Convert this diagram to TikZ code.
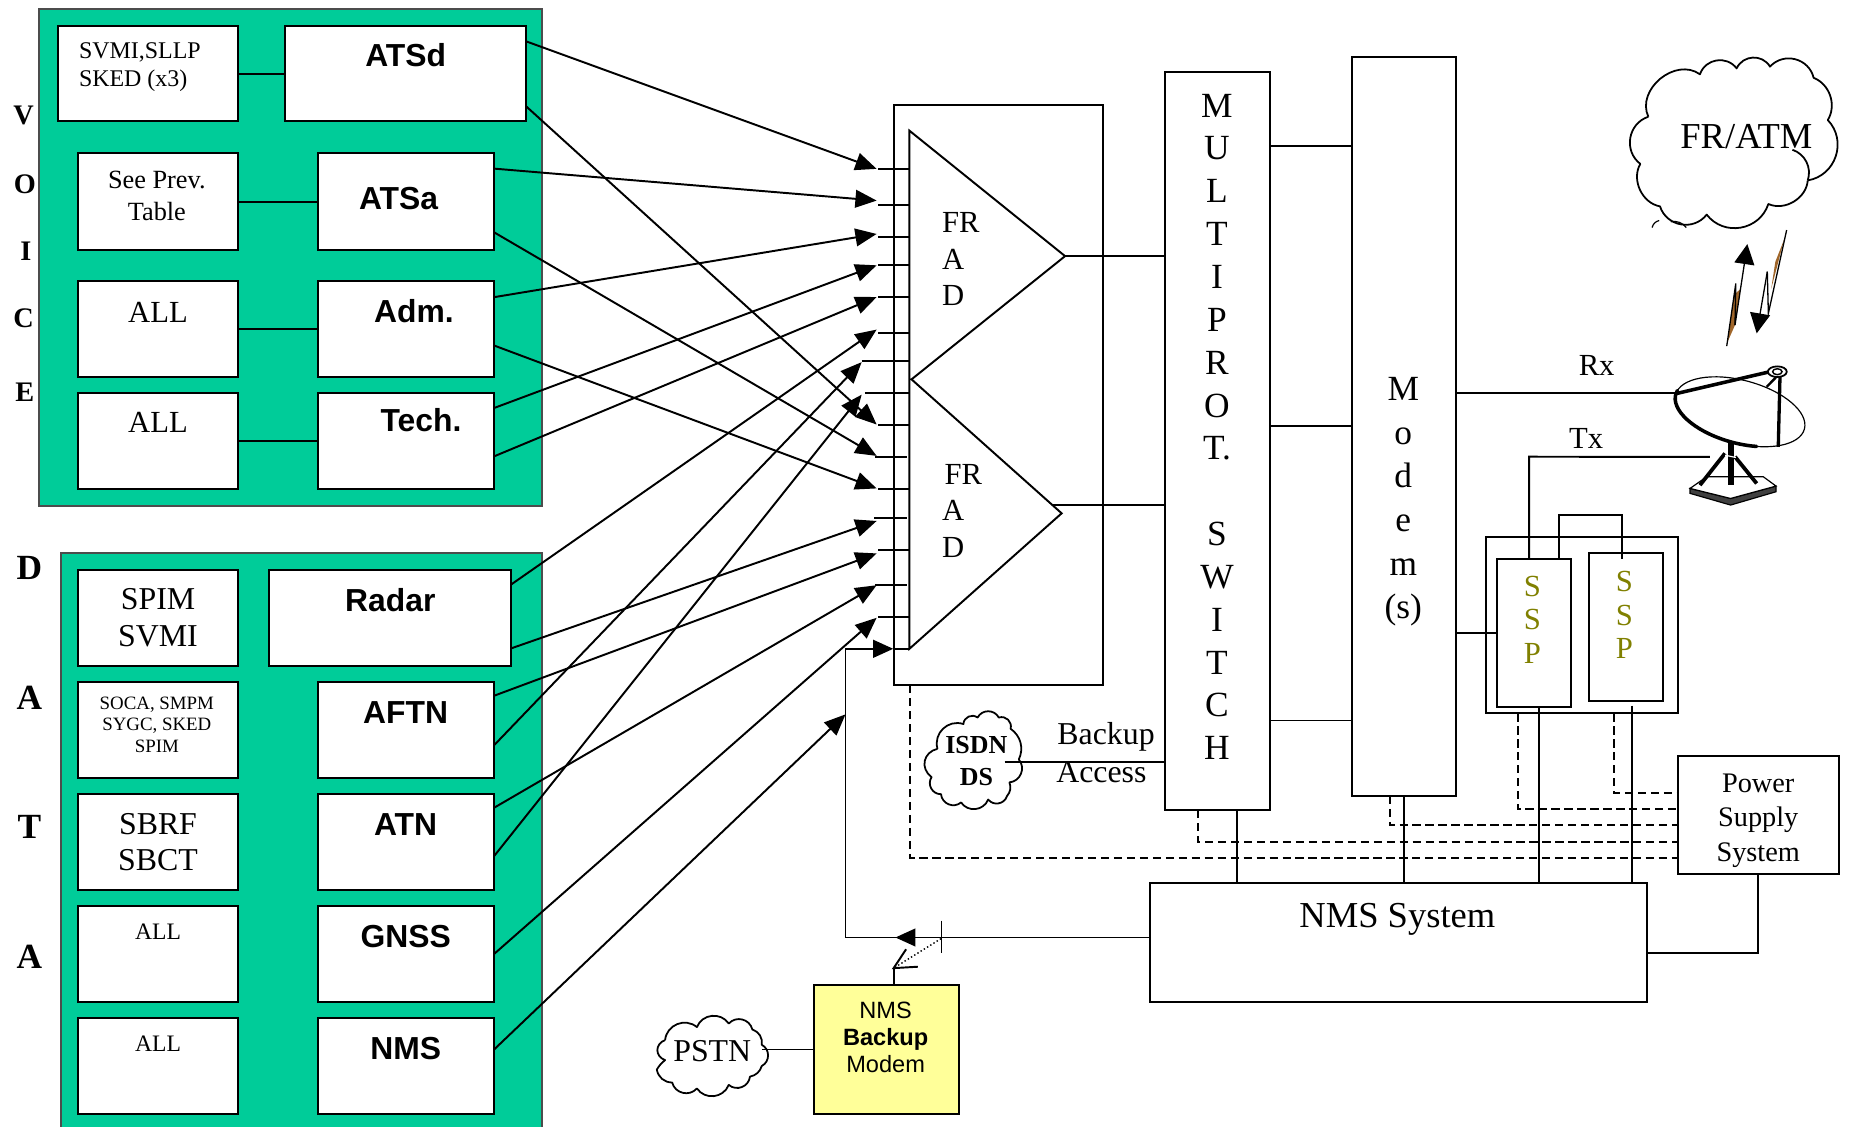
\documentclass[tikz,border=0pt]{standalone}
\usepackage{fontspec}
\setmainfont{Liberation Serif}
\setsansfont{Liberation Sans}
\usetikzlibrary{arrows.meta,calc}
\definecolor{panelgreen}{HTML}{00CC99}
\definecolor{noteyellow}{HTML}{FFFF99}
\definecolor{sspolive}{HTML}{808000}
\definecolor{boltbrown}{HTML}{A0662A}
\tikzset{
  wire/.style={line width=1.65pt,draw=black},
  dashwire/.style={line width=1.65pt,draw=black,dash pattern=on 7pt off 4pt},
  box/.style={draw=black,line width=1.7pt,fill=white,rectangle,inner sep=0pt,outer sep=0pt},
  panel/.style={draw=black!70,line width=1.7pt,fill=panelgreen,rectangle,inner sep=0pt,outer sep=0pt},
  plain/.style={draw=black,line width=1.7pt,rectangle,inner sep=0pt,outer sep=0pt},
  feed/.style={wire,-{Triangle[length=18pt,width=15pt]}},
  txt/.style={inner sep=0pt,outer sep=0pt,align=center,text=black},
  lobe/.style={bend left=62,looseness=1.15},
  cloudline/.style={line width=1.5pt,draw=black,line join=round},
}
\newcommand{\bx}[6][box]{%
  \pgfmathsetmacro{\cxv}{(#3+#5)/2}\pgfmathsetmacro{\cyv}{(#4+#6)/2}%
  \pgfmathsetmacro{\wv}{#5-#3}\pgfmathsetmacro{\hv}{#6-#4}%
  \node[#1,minimum width=\wv pt,minimum height=\hv pt] (#2) at (\cxv,\cyv) {};}
\newcommand{\rmt}[5]{\node[txt] (#1) at (#2,#3) {\fontsize{#4}{#4}\selectfont #5};}
\newcommand{\rmb}[5]{\node[txt] (#1) at (#2,#3) {\fontsize{#4}{#4}\selectfont\bfseries #5};}
\newcommand{\snb}[3]{\node[txt] (#1) at (#2,#3) {\fontsize{27}{27}\selectfont\sffamily\bfseries #1};}
\begin{document}
\begin{tikzpicture}[x=1pt,y=-1pt]
\useasboundingbox (0,0) rectangle (1568,955);
% panels
\bx[panel]{voice}{33}{8}{460}{429}
\bx[panel]{data}{52}{469}{460}{965}
% voice boxes
\bx{svmi}{49}{22}{202}{103}
\bx{atsdb}{242}{22}{446}{103}
\bx{prev}{66}{130}{202}{212}
\bx{atsab}{269.5}{130}{419}{212}
\bx{alla}{66}{238}{202}{320}
\bx{admb}{269.5}{238}{419}{320}
\bx{allb}{66}{333}{202}{415}
\bx{techb}{269.5}{333}{419}{415}
% data boxes
\bx{spim}{66}{483}{202}{565}
\bx{radarb}{228}{483}{433}{565}
\bx{soca}{66}{578}{202}{660}
\bx{aftnb}{269.5}{578}{419}{660}
\bx{sbrf}{66}{673}{202}{755}
\bx{atnb}{269.5}{673}{419}{755}
\bx{allc}{66}{768}{202}{850}
\bx{gnssb}{269.5}{768}{419}{850}
\bx{alld}{66}{863}{202}{945}
\bx{nmsb}{269.5}{863}{419}{945}
% links between boxes
\foreach \l/\r in {svmi/atsdb,prev/atsab,alla/admb,allb/techb}{\draw[wire] (\l.east) -- (\r.west);}
% panel labels
\rmb{lv}{20}{98}{24}{V}\rmb{lo}{21}{156}{24}{O}\rmb{li}{22}{213}{24}{I}\rmb{lc}{20}{270}{24}{C}\rmb{le}{21}{333}{24}{E}
\rmb{ld}{25}{482}{30}{D}\rmb{la}{25}{592}{30}{A}\rmb{lt}{25}{701}{30}{T}\rmb{lb}{25}{811}{30}{A}
% voice text
\node[txt,anchor=west,align=left,font=\fontsize{20.3}{24}\selectfont] (tsvmi) at (67,57) {SVMI,SLLP\\SKED (x3)};
\node[txt,font=\fontsize{22.3}{27}\selectfont] (tprev) at (133,166) {See Prev.\\Table};
\rmt{tall1}{134}{264.5}{26}{ALL}
\rmt{tall2}{134}{358.5}{26}{ALL}
\snb{ATSd}{344}{47}\snb{ATSa}{338}{168}\snb{Adm.}{351}{264}\snb{Tech.}{357}{356}
\snb{Radar}{331}{509}\snb{AFTN}{344}{604}\snb{ATN}{344}{699}\snb{GNSS}{344}{794}\snb{NMS}{344}{889}
% data text
\node[txt,font=\fontsize{27}{31}\selectfont] (tspim) at (134,524) {SPIM\\SVMI};
\node[txt,font=\fontsize{16}{18}\selectfont] (tsoca) at (133,614.5) {SOCA, SMPM\\SYGC, SKED\\SPIM};
\node[txt,font=\fontsize{27}{31}\selectfont] (tsbrf) at (134,714) {SBRF\\SBCT};
\rmt{tall3}{134}{790}{20}{ALL}
\rmt{tall4}{134}{885}{20}{ALL}
% FRAD
\bx[plain]{frad}{758}{89}{935}{581}
\coordinate (t1a) at (771.2,110.8);\coordinate (t1b) at (903.2,217.2);\coordinate (tm) at (773,321.7);
\coordinate (t2b) at (900.3,435.3);\coordinate (t2c) at (771.2,550.2);
\draw[wire,line join=miter] (t1a) -- (t1b) -- (tm) -- (t2b) -- (t2c) -- cycle;
\node[txt,anchor=west,align=left,font=\fontsize{26}{31}\selectfont] (f1) at (799,220) {FR\\A\\D};
\node[txt,anchor=west,align=left,font=\fontsize{26}{31}\selectfont] (f2) at (799,433) {\kern2pt FR\\A\\D};
% stubs
\foreach \n/\xl/\xr/\yy in {1/744.9/771.2/143.6,2/744.9/771.2/173.8,3/744.9/771.2/200.7,4/744.9/771.2/225,5/744.9/771.2/251.9,6/744.9/771.2/282.4,7/730.7/771.2/306.1,8/733.5/771.2/333.4,9/744.9/771.2/360.7,10/742/768.9/387.6,11/744.9/771.2/414.8,12/741.4/768.9/439.2,13/744.9/771.2/466.8,14/742/768.9/496.3,15/744.9/771.2/523.3}{
  \coordinate (s\n) at (\xl,\yy);\coordinate (e\n) at (\xr,\yy);
  \draw[wire] (s\n) -- (e\n);}
% tips
\foreach \n/\xx/\yy in {1/743.4/143.2,2/743.4/170.1,3/743.4/198.4,4/743.4/225,5/743.4/251.9,6/743.4/279.5,7/730.7/307.1,8/730.7/334.7,9/743.4/360,10/743.4/386.6,11/743.4/414.2,12/743.4/441.8,13/743.4/469.3,14/743.4/496.3,15/743.4/523.9}{\coordinate (a\n) at (\xx,\yy);}
% feeders
\draw[feed] ([yshift=27.5pt]atsdb.east) -- (a1);
\draw[feed] ([yshift=-27.5pt]atsdb.east) -- (a9);
\draw[feed] ([yshift=28pt]atsab.east) -- (a2);
\draw[feed] ([yshift=-26pt]atsab.east) -- (a10);
\draw[feed] ([yshift=27pt]admb.east) -- (a3);
\draw[feed] ([yshift=-14pt]admb.east) -- (a11);
\draw[feed] ([yshift=28pt]techb.east) -- (a4);
\draw[feed] ([yshift=-13pt]techb.east) -- (a5);
\draw[feed] ([yshift=28pt]radarb.east) -- (a6);
\draw[feed] ([yshift=-26pt]radarb.east) -- (a12);
\draw[feed] ([yshift=29pt]aftnb.east) -- (a13);
\draw[feed] ([yshift=-13pt]aftnb.east) -- (a7);
\draw[feed] ([yshift=29pt]atnb.east) -- (a14);
\draw[feed] ([yshift=-12pt]atnb.east) -- (a8);
\draw[feed] (gnssb.east) -- (a15);
\coordinate (bus) at (717,605.8);
\draw[feed] ([yshift=14pt]nmsb.east) -- (bus);
% switch, modem
\bx[plain]{switch}{988}{61}{1077}{687}
\bx[plain]{modem}{1146.5}{48}{1235}{675}
\node[txt,font=\fontsize{30}{36.33}\selectfont] (tsw) at (1032,362) {M\\U\\L\\T\\I\\P\\R\\O\\T.\\[36.33pt]S\\W\\I\\T\\C\\H};
\node[txt,font=\fontsize{30}{37}\selectfont] (tmo) at (1190,425.5) {M\\o\\d\\e\\m\\(s)};
\draw[wire] (t1b) -- (t1b -| switch.west);
\coordinate (t2o) at (893,428.2);
\draw[wire] (t2o) -- (t2o -| switch.west);
\foreach \yy in {124,361,611}{\draw[wire] (switch.east |- 0,\yy) -- (modem.west |- 0,\yy);}
% ISDN
\coordinate (i1) at (795,635);\coordinate (i2) at (817,614);\coordinate (i3) at (829,608.5);\coordinate (i4) at (847,608.5);\coordinate (i5) at (857,618);\coordinate (i6) at (864,644);\coordinate (i7) at (856,663.5);\coordinate (i8) at (854,675);\coordinate (i9) at (838,678);\coordinate (i10) at (815,680.5);\coordinate (i11) at (798,673.5);\coordinate (i12) at (790,659);
\draw[cloudline] (i1) to[lobe] (i2) to[lobe] (i3) to[lobe] (i4) to[lobe] (i5) to[bend left=40] (i6) to[lobe] (i7) to[bend left=30] (i8) to[lobe] (i9) to[lobe] (i10) to[lobe] (i11) to[lobe] (i12) to[bend left=65,looseness=1.3] (i1);
\node[txt,font=\fontsize{22}{27}\selectfont\bfseries] (tisdn) at (828,645.5) {ISDN\\DS};
\coordinate (iout) at (852,646);
\draw[wire] (iout) -- (iout -| switch.west);
\node[txt] (tback) at (938,625) {\fontsize{27}{27}\selectfont Backup};
\node[txt] (tacc) at (934,655) {\fontsize{27}{27}\selectfont Access};
% NMS
\bx[plain]{nms}{975}{749}{1396.5}{849.5}
\rmt{tnms}{1185}{780}{31}{NMS System}
% yellow modem
\bx[plain,fill=noteyellow]{ymodem}{690}{835}{813}{945}
\node[txt,font=\fontsize{20}{23}\selectfont\sffamily] (tym) at (751,879.5) {NMS\\\textbf{Backup}\\Modem};
% PSTN
\coordinate (p1) at (564,882);\coordinate (p2) at (591,871);\coordinate (p3) at (618,868);\coordinate (p4) at (638,873);\coordinate (p5) at (646,886);\coordinate (p6) at (646,904);\coordinate (p7) at (636,913);\coordinate (p8) at (618,920);\coordinate (p9) at (591,923);\coordinate (p10) at (570,918);\coordinate (p11) at (557,907);\coordinate (p12) at (564,899);
\draw[cloudline] (p1) to[lobe] (p2) to[lobe] (p3) to[lobe] (p4) to[bend left=40] (p5) to[lobe] (p6) to[bend left=30] (p7) to[lobe] (p8) to[lobe] (p9) to[lobe] (p10) to[bend left=40] (p11) to[bend left=10] (p12) to[bend left=70,looseness=1.4] (p1);
\rmt{tpstn}{604}{891}{27}{PSTN}
\draw[wire] (p5 |- ymodem.west) -- (ymodem.west);
% NMS feed back to FRAD
\coordinate (corn) at (717,795);\coordinate (cup) at (717,550.2);\coordinate (tip16) at (757.5,550.2);
\coordinate (sw1) at (798.6,795);
\draw[wire,-{Triangle[length=17pt,width=15pt]}] (nms.west |- corn) -- (corn) -- (cup) -- (tip16);
\draw[wire] (tip16) -- (t2c);
\draw[wire,-{Triangle[length=17pt,width=15pt]}] (sw1) -- (759.3,795);
% switch antenna
\coordinate (ant) at (757.8,821);
\draw[wire] (ymodem.north -| ant) -- (ant);
\draw[wire] (768.4,805) -- (ant) -- (778.4,819.8);
\draw[line width=1.2pt] (798.6,780.8) -- (798.6,808.5);
\draw[line width=1.2pt,dotted] (798,796) -- (ant);
% dashed FRAD and monitor lines
\bx[plain]{power}{1422.8}{640.8}{1559.3}{740.9}
\node[txt,font=\fontsize{24}{29}\selectfont] (tpow) at (1491,696) {Power\\Supply\\System};
\coordinate (dk1) at (772,727.4);\coordinate (dk2) at (1015.7,713.7);\coordinate (dk3) at (1178.8,700);\coordinate (dk4) at (1287,686.3);\coordinate (dk5) at (1368.8,672.8);
\draw[dashwire] (dk1 |- frad.south) -- (dk1) -- (dk1 -| power.west);
\draw[dashwire] (dk2 |- switch.south) -- (dk2) -- (dk2 -| power.west);
\draw[dashwire] (dk3 |- modem.south) -- (dk3) -- (dk3 -| power.west);
% SSP
\bx[plain]{sspo}{1260.2}{455.7}{1423.3}{604.9}
\bx[plain]{sspa}{1269.8}{474}{1332}{599.3}
\bx[plain]{sspb}{1347.6}{469.2}{1410}{594.5}
\node[txt,text=sspolive,font=\fontsize{26}{28.5}\selectfont] (ts1) at (1299.5,525.5) {S\\S\\P};
\node[txt,text=sspolive,font=\fontsize{26}{28.5}\selectfont] (ts2) at (1377.5,521.5) {S\\S\\P};
\draw[dashwire] (dk4 |- sspo.south) -- (dk4) -- (dk4 -| power.west);
\draw[dashwire] (dk5 |- sspo.south) -- (dk5) -- (dk5 -| power.west);
\draw[wire] (modem.east |- sspa.west) -- (sspa.west);
\coordinate (l1) at (1322.4,436.7);\coordinate (l2) at (1375.3,436.7);
\draw[wire] (l1 |- sspa.north) -- (l1) -- (l2) -- (l2 |- sspa.north);
\draw[wire] (1049.3,0 |- switch.south) -- (1049.3,0 |- nms.north);
\draw[wire] (1190.7,0 |- modem.south) -- (1190.7,0 |- nms.north);
\draw[wire] (1305.1,0 |- sspa.south) -- (1305.1,0 |- nms.north);
\draw[wire] (1384.3,598.4) -- (1384.3,0 |- nms.north);
\draw[wire] (power.south) -- (power.south |- 0,808) -- (nms.east |- 0,808);
% dish
\begin{scope}[shift={(1475.6,349.2)},rotate=-15]
  \draw[line width=1pt,fill=white] (0,0) ellipse [x radius=56.5pt,y radius=26.7pt];
  \draw[line width=3pt,line cap=round] (172:56.5pt and 26.7pt) arc[start angle=172,end angle=292,x radius=56.5pt,y radius=26.7pt];
\end{scope}
\coordinate (dishl) at (1420.5,334);
\coordinate (rxin) at (1420.5,333.6);
\coordinate (txin) at (1450,387.5);
\draw[wire] (modem.east |- rxin) -- (rxin);
\coordinate (tx1) at (1296.7,387.3);
\draw[wire] (tx1 |- sspa.north) -- (tx1) -- (txin);
\rmt{trx}{1354}{310}{26}{Rx}
\rmt{ttx}{1345}{372}{26}{Tx}
\draw[line width=3pt] (dishl) -- (1501,315.2);
\draw[line width=2.8pt] (1509.5,318) -- (1508,378.9);
\draw[line width=2pt] (1498.2,328) -- (1508,318);
\draw[line width=1.5pt,fill=white] (1507.2,315.2) ellipse [x radius=8pt,y radius=4.5pt];
\draw[line width=1.2pt] (1507.2,315.2) ellipse [x radius=4pt,y radius=2.5pt];
% base
\draw[line width=1pt,fill=black!75] (1433.2,414.2) -- (1467.6,422.7) -- (1506.1,412.2) -- (1506.1,417) -- (1467.6,428.3) -- (1433.2,418.4) -- cycle;
\draw[line width=1pt,fill=white] (1433.2,414.2) -- (1447.3,404.3) -- (1495.3,404.3) -- (1506.1,412.2) -- (1467.6,422.7) -- cycle;
\draw[line width=5pt] (1467.6,376) -- (1467.6,411.4);
\draw[line width=3.2pt] (1462.8,384.5) -- (1441.6,411.4);
\draw[line width=3.2pt] (1471.3,387.3) -- (1489.7,410);
\draw[white,line width=1pt] (1463,386) -- (1472,388);
% cloud
\coordinate (c1) at (1397.8,99);\coordinate (c2) at (1441.6,63);\coordinate (c3) at (1472.7,58);\coordinate (c4) at (1501,56.5);\coordinate (c5) at (1538,66);\coordinate (c6) at (1550,101.8);\coordinate (c7) at (1533,153);\coordinate (c8) at (1499.6,173);\coordinate (c9) at (1447.3,182);\coordinate (c10) at (1407.7,175);\coordinate (c11) at (1391,139);
\draw[cloudline] (c1) to[lobe,bend left=75] (c2) to[lobe] (c3) to[lobe] (c4) to[lobe] (c5) to[bend left=50] (c6) to[lobe] (c7);
\draw[cloudline] (c7) to[bend left=55] (c8) to[lobe] (c9) to[lobe] (c10) to[bend left=55] (c11) to[lobe] (c1);
\draw[cloudline] (1520,127) to[bend left=45] (c7);
\draw[line width=1pt] (1401,193) to[bend left=30] (1407,187);
\draw[line width=1pt] (1417,188) to[bend left=30] (1430,193);
\rmt{tfr}{1481}{116}{31}{FR/ATM}
% lightning
\fill[boltbrown] (1465,290) -- (1471.3,275.7) -- (1476,245) -- (1470.5,250) -- cycle;
\draw[line width=1.1pt,line join=miter] (1464.3,293.5) -- (1472,240.3) -- (1471.3,275.7);
\draw[line width=1.1pt,-{Triangle[length=17pt,width=17pt]}] (1471.3,275.7) -- (1481.8,207);
\fill[boltbrown] (1513,203) -- (1507,226) -- (1502,245) -- (1505.5,222) -- cycle;
\draw[line width=1.1pt,line join=miter] (1515.1,195.1) -- (1499.6,265.8) -- (1498.7,230.4);
\draw[line width=1.1pt,-{Triangle[length=17pt,width=17pt]}] (1498.7,230.4) -- (1489.7,282.7);
\end{tikzpicture}
\end{document}
